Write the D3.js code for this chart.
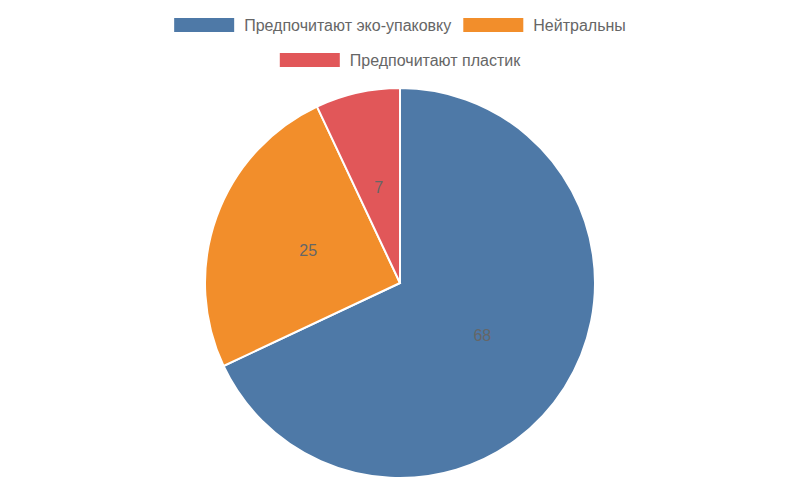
<!DOCTYPE html>
<html><head><meta charset="utf-8">
<script src="https://cdn.jsdelivr.net/npm/d3@7"></script>
<style>body{margin:0;background:#fff}</style>
</head><body>
<svg></svg>
<script>
let categories = ['Предпочитают эко-упаковку', 'Нейтральны', 'Предпочитают пластик']
let values = [68, 25, 7]
let colors = ['#4e79a7', '#f28e2b', '#e15759']

let width = 800
let height = 480
let cx = 400
let cy = 283
let radius = 195

let svg = d3.select('svg').attr('width', width).attr('height', height)
let font = 'Liberation Sans, Arial, sans-serif'

// legend
let legendRows = [[0, 1], [2]]
let rowY = [25, 60]
let measure = svg.append('text').style('font-family', font).style('font-size', '16px')
legendRows.forEach((row, ri) => {
    let widths = row.map(i => { measure.text(categories[i]); return 60 + 10 + measure.node().getComputedTextLength() })
    let total = d3.sum(widths) + 12 * (row.length - 1)
    let x = (width - total) / 2
    row.forEach((i, k) => {
        svg.append('rect').attr('x', x).attr('y', rowY[ri] - 7).attr('width', 60).attr('height', 14)
            .attr('fill', colors[i])
        svg.append('text').attr('x', x + 70).attr('y', rowY[ri]).attr('dy', '0.35em')
            .style('font-family', font).style('font-size', '16px').attr('fill', '#666')
            .text(categories[i])
        x += widths[k] + 12
    })
})
measure.remove()

let pie = d3.pie().sort(null)(values)
let arc = d3.arc().innerRadius(0).outerRadius(radius)
let labelArc = d3.arc().innerRadius(radius / 2).outerRadius(radius / 2)

let g = svg.append('g').attr('transform', `translate(${cx},${cy})`)
g.selectAll('path').data(pie).enter().append('path')
    .attr('d', arc)
    .attr('fill', (d, i) => colors[i])
    .attr('stroke', '#fff').attr('stroke-width', 2)

g.selectAll('text.val').data(pie).enter().append('text')
    .attr('class', 'val')
    .attr('transform', d => `translate(${labelArc.centroid(d)})`)
    .attr('text-anchor', 'middle').attr('dy', '0.35em')
    .style('font-family', font).style('font-size', '16px').attr('fill', '#666')
    .text(d => d.data)
</script>
</body></html>
